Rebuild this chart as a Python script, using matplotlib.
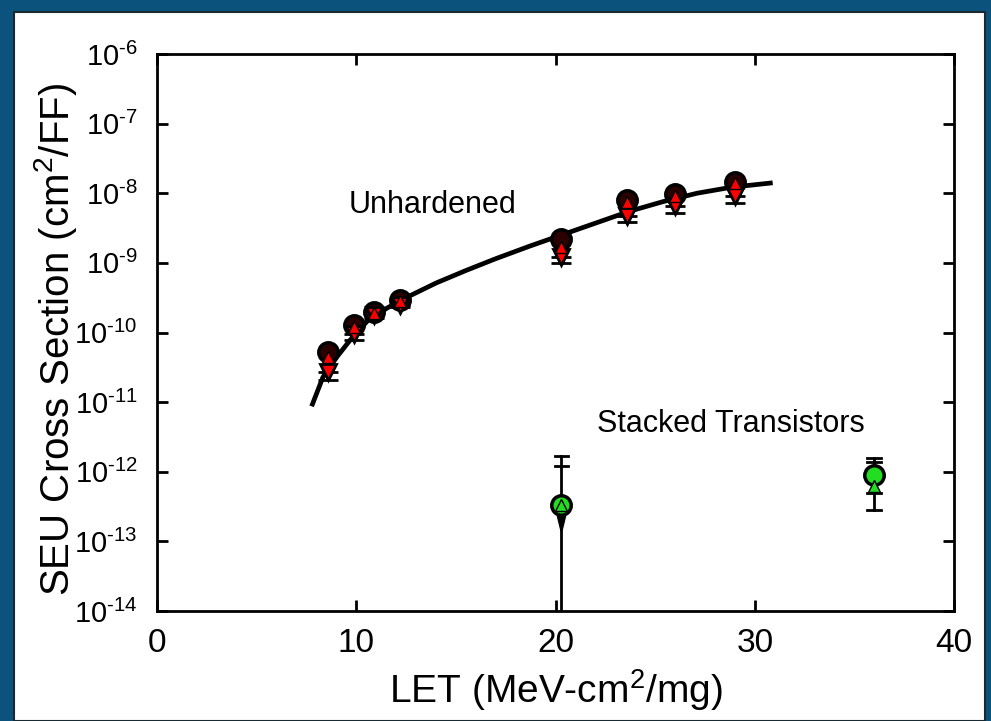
import numpy as np
import matplotlib
matplotlib.use("Agg")
import matplotlib.pyplot as plt
from matplotlib.patches import Rectangle

plt.rcParams['font.family'] = ['Liberation Sans', 'DejaVu Sans']
plt.rcParams['mathtext.fontset'] = 'custom'
plt.rcParams['mathtext.rm'] = 'Liberation Sans'
plt.rcParams['mathtext.it'] = 'Liberation Sans'

# Unhardened flip-flops (red)
unh_let = [8.6, 9.9, 10.9, 12.2, 20.3, 23.6, 26.0, 29.0]
unh_circle = [5.2e-11, 1.3e-10, 2.0e-10, 2.9e-10, 2.2e-9, 7.9e-9, 9.8e-9, 1.45e-8]
unh_up = [4.5e-11, 1.2e-10, 1.9e-10, 2.8e-10, 1.7e-9, 7.4e-9, 9.2e-9, 1.4e-8]
unh_down = [2.7e-11, 9.5e-11, 1.8e-10, 2.5e-10, 1.2e-9, 4.7e-9, 6.6e-9, 9.1e-9]
unh_down_lo = [2.1e-11, 7.7e-11, 1.6e-10, 2.3e-10, 1.0e-9, 3.9e-9, 5.2e-9, 7.2e-9]

# Weibull fit (LET, log10 cross section)
fit_let = [7.76, 8.33, 9.03, 9.69, 10.54, 11.54, 12.5, 14.0, 15.5, 17.0,
           18.7, 20.4, 22.1, 23.7, 25.4, 27.1, 28.8, 30.9]
fit_log = [-11.06, -10.64, -10.35, -10.11, -9.84, -9.65, -9.50, -9.29, -9.11, -8.94,
           -8.76, -8.59, -8.42, -8.26, -8.12, -8.00, -7.915, -7.85]
fit_sigma = [10.0 ** v for v in fit_log]

# Stacked transistors (green)
stk_let = [20.3, 36.0]
stk_circle = [3.3e-13, 8.9e-13]
stk_up = [3.3e-13, 6.3e-13]
stk_hi1 = [1.7e-12, 1.6e-12]
stk_hi2 = [1.2e-12, 1.4e-12]
stk_lo = [1.0e-14, 2.8e-13]
stk_lo2 = [1.0e-14, 5.0e-13]
stk_arrow_tip = 1.1e-13

x_ticks = [0, 10, 20, 30, 40]
y_exps = [-14, -13, -12, -11, -10, -9, -8, -7, -6]

fig = plt.figure(figsize=(9.91, 7.21), dpi=100)
fig.patch.set_facecolor('#0B527D')
fig.patches.append(Rectangle((14 / 991, 0), (985 - 14) / 991, 1 - 12 / 721,
                             transform=fig.transFigure, facecolor='white',
                             edgecolor='#1a2a33', linewidth=1.5, zorder=-10))

ax = fig.add_axes([157 / 991, 1 - 611 / 721, (954 - 157) / 991, (611 - 54) / 721])
ax.set_zorder(5)
ax.patch.set_alpha(0)
ax.set_yscale('log')
ax.set_xlim(0, 40)
ax.set_ylim(1e-14, 1e-6)

ax.plot(fit_let, fit_sigma, color='black', lw=3.4, zorder=2,
        solid_capstyle='butt', solid_joinstyle='round')

# red series
yerr_dn = [np.array(unh_down) - np.array(unh_down_lo), np.zeros(len(unh_down))]
ax.errorbar(unh_let, unh_down, yerr=yerr_dn, fmt='v', color='black', ms=11,
            mfc='red', mec='black', mew=2, capsize=7, capthick=2, elinewidth=2, zorder=3)
ax.plot(unh_let, unh_circle, 'o', ms=14, mfc='#2a0000', mec='black', mew=2.5, zorder=3)
ax.plot(unh_let, unh_up, '^', ms=9, mfc='red', mec='black', mew=1, zorder=4)

# green series
for i in range(len(stk_let)):
    x = stk_let[i]
    ax.plot([x, x], [stk_lo[i], stk_hi1[i]], color='black', lw=2, zorder=2)
    ax.plot([x - 0.35, x + 0.35], [stk_hi1[i], stk_hi1[i]], color='black', lw=2, zorder=2)
    ax.plot([x - 0.35, x + 0.35], [stk_hi2[i], stk_hi2[i]], color='black', lw=2, zorder=2)
    if stk_lo[i] > 1e-14:
        ax.plot([x - 0.35, x + 0.35], [stk_lo[i], stk_lo[i]], color='black', lw=2, zorder=2)
        ax.plot([x - 0.35, x + 0.35], [stk_lo2[i], stk_lo2[i]], color='black', lw=2, zorder=2)
ax.annotate('', xy=(stk_let[0], stk_arrow_tip), xytext=(stk_let[0], stk_circle[0]),
            arrowprops=dict(arrowstyle='-|>,head_length=0.9,head_width=0.22',
                            color='black', lw=2, mutation_scale=22), zorder=3)
ax.plot(stk_let, stk_circle, 'o', ms=14, mfc='#22DD22', mec='black', mew=2.5, zorder=3)
ax.plot(stk_let, stk_up, '^', ms=9, mfc='#22DD22', mec='black', mew=1, zorder=4)

ax.text(13.85, 6.8e-9, 'Unhardened', fontsize=22, ha='center', va='center')
ax.text(28.8, 4.9e-12, 'Stacked Transistors', fontsize=22, ha='center', va='center')

ax.set_xticks(x_ticks)
ax.set_yticks([10.0 ** e for e in y_exps])
ax.set_yticklabels([r'10$^{\mathregular{\text{-}%d}}$' % (-e) for e in y_exps])
ax.minorticks_off()
ax.tick_params(axis='both', which='major', direction='in', length=8, width=2,
               top=True, right=True)
ax.tick_params(axis='x', labelsize=24, pad=12)
ax.tick_params(axis='y', labelsize=21, pad=14)
for s in ax.spines.values():
    s.set_linewidth(2)

ax.set_xlabel('LET (MeV-cm$^2$/mg)', fontsize=28, labelpad=6)
ax.set_ylabel('SEU Cross Section (cm$^2$/FF)', fontsize=29)
ax.yaxis.set_label_coords(-0.098, 0.487)

fig.savefig('out.png', dpi=100, facecolor=fig.get_facecolor())
